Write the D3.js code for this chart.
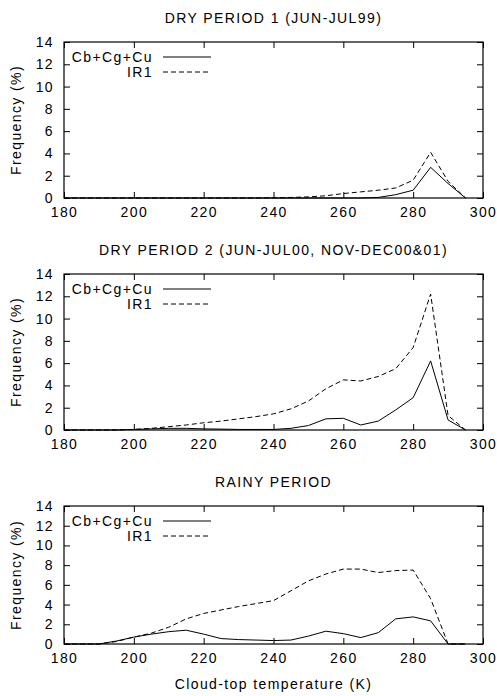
<!DOCTYPE html>
<html>
<head>
<meta charset="utf-8">
<script src="https://cdn.jsdelivr.net/npm/d3@7"></script>
<style>
  body { margin: 0; background: #fff; }
  svg text { font-family: "Liberation Sans", Arial, sans-serif; font-size: 14px; letter-spacing: 1.4px; fill: #000; }
</style>
</head>
<body>
<script>
// cloud-top temperature bins (K)
var temps = [180,185,190,195,200,205,210,215,220,225,230,235,240,245,250,255,260,265,270,275,280,285,290,295];

var titles = ["DRY PERIOD 1 (JUN-JUL99)", "DRY PERIOD 2 (JUN-JUL00, NOV-DEC00&01)", "RAINY PERIOD"];
var seriesNames = ["Cb+Cg+Cu", "IR1"];

// frequency (%) per bin
var cbDry1  = [0,0,0,0,0,0,0,0,0,0,0,0,0,0,0,0,0,0,0.05,0.3,0.7,2.75,1.3,0];
var ir1Dry1 = [0,0,0,0,0,0,0,0,0,0,0,0,0.02,0.05,0.1,0.2,0.4,0.55,0.7,0.9,1.6,4.1,1.5,0];

var cbDry2  = [0,0,0,0,0.05,0.1,0.15,0.15,0.1,0.08,0.05,0.05,0.05,0.15,0.4,1.0,1.05,0.45,0.8,1.8,2.9,6.2,0.9,0];
var ir1Dry2 = [0,0,0,0,0.05,0.15,0.3,0.45,0.65,0.8,1.0,1.2,1.45,1.9,2.6,3.7,4.5,4.4,4.8,5.5,7.4,12.2,1.3,0];

var cbRainy  = [0,0,0,0.3,0.7,1.0,1.25,1.4,1.0,0.55,0.45,0.4,0.35,0.4,0.8,1.3,1.05,0.65,1.15,2.55,2.75,2.35,0,0];
var ir1Rainy = [0,0,0,0.25,0.7,1.1,1.7,2.55,3.1,3.45,3.8,4.1,4.4,5.4,6.4,7.1,7.6,7.6,7.25,7.45,7.5,4.6,0,0];

var xTicks = [180,200,220,240,260,280,300];
var yTicks = [0,2,4,6,8,10,12,14];

var panels = [
  {title: titles[0], cb: cbDry1,  ir: ir1Dry1,  top: 42,  bottom: 198},
  {title: titles[1], cb: cbDry2,  ir: ir1Dry2,  top: 274, bottom: 430},
  {title: titles[2], cb: cbRainy, ir: ir1Rainy, top: 506, bottom: 644}
];

var left = 64, right = 483;
var svg = d3.select("body").append("svg").attr("width", 497).attr("height", 696);

var x = d3.scaleLinear().domain([180, 300]).range([left, right]);

function drawPanel(p, last){
  var y = d3.scaleLinear().domain([0, 14]).range([p.bottom, p.top]);
  var g = svg.append("g");

  // ticks inside on all four sides
  g.append("g").attr("transform", "translate(0," + p.bottom + ")")
    .call(d3.axisBottom(x).tickValues(xTicks).tickSizeInner(-6).tickSizeOuter(0).tickPadding(9).tickFormat(d3.format("d")));
  g.append("g").attr("transform", "translate(0," + p.top + ")")
    .call(d3.axisTop(x).tickValues(xTicks).tickSizeInner(-6).tickSizeOuter(0).tickFormat(""));
  g.append("g").attr("transform", "translate(" + left + ",0)")
    .call(d3.axisLeft(y).tickValues(yTicks).tickSizeInner(-6).tickSizeOuter(0).tickPadding(10).tickFormat(d3.format("d")));
  g.append("g").attr("transform", "translate(" + right + ",0)")
    .call(d3.axisRight(y).tickValues(yTicks).tickSizeInner(-6).tickSizeOuter(0).tickFormat(""));

  g.selectAll(".domain").remove();
  g.selectAll(".tick line").attr("stroke", "#000");
  g.selectAll(".tick text").attr("font-size", null).attr("font-family", null);

  g.append("rect")
    .attr("x", left).attr("y", p.top)
    .attr("width", right - left).attr("height", p.bottom - p.top)
    .attr("fill", "none").attr("stroke", "#000").attr("stroke-width", 1.2);

  var line = d3.line()
    .x(function(d, i){ return x(temps[i]); })
    .y(function(d){ return y(d); });

  g.append("path").datum(p.cb).attr("d", line)
    .attr("fill", "none").attr("stroke", "#000").attr("stroke-width", 1);
  g.append("path").datum(p.ir).attr("d", line)
    .attr("fill", "none").attr("stroke", "#000").attr("stroke-width", 1).attr("stroke-dasharray", "5,3");

  // legend
  var ly = [p.top + 15, p.top + 30];
  for(var i = 0; i < 2; i++){
    g.append("text").text(seriesNames[i])
      .attr("x", 153).attr("y", ly[i] + 5)
      .attr("text-anchor", "end");
    var l = g.append("line")
      .attr("x1", 163).attr("x2", 211)
      .attr("y1", ly[i]).attr("y2", ly[i])
      .attr("stroke", "#000").attr("stroke-width", 1);
    if(i == 1) l.attr("stroke-dasharray", "5,3");
  }

  g.append("text").text(p.title)
    .attr("x", (left + right) / 2).attr("y", p.top - 19)
    .attr("text-anchor", "middle");

  var cy = (p.top + p.bottom) / 2;
  g.append("text").text("Frequency (%)")
    .attr("transform", "translate(21," + cy + ") rotate(-90)")
    .attr("text-anchor", "middle");

  if(last){
    g.append("text").text("Cloud-top temperature (K)")
      .attr("x", (left + right) / 2).attr("y", 689)
      .attr("text-anchor", "middle");
  }
}

for(var i = 0; i < panels.length; i++){
  drawPanel(panels[i], i == panels.length - 1);
}
</script>
</body>
</html>
